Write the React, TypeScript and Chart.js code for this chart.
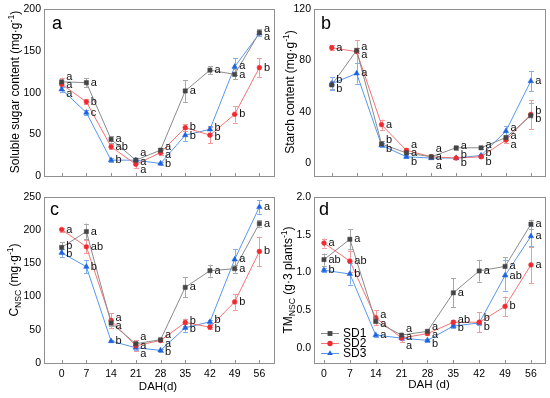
import React, { useEffect, useRef } from 'react';
import { Chart, registerables } from 'chart.js';
Chart.register(...registerables);

const FONT = '"Liberation Sans", Arial, sans-serif';

// ---------- shared ----------
const days = [0, 7, 14, 21, 28, 35, 42, 49, 56];
const seriesNames = ['SD1', 'SD2', 'SD3'];

// ---------- panel a : soluble sugar ----------
const sugarSD1 = [113, 112, 44, 19, 31, 102, 127, 122, 172];
const sugarSD2 = [110, 89, 35, 14, 28, 58, 49, 74, 130];
const sugarSD3 = [104, 76, 19, 19, 15, 49, 56, 131, 171];
const sugarErrSD1 = [5, 5, 4, 2, 3, 13, 5, 6, 4];
const sugarErrSD2 = [7, 3, 3, 5, 3, 4, 10, 10, 11];
const sugarErrSD3 = [3, 3, 2, 2, 2, 7, 4, 10, 3];
const sugarSigSD1 = ['a', 'a', 'a', 'a', 'a', 'a', 'a', 'a', 'a'];
const sugarSigSD2 = ['a', 'b', 'ab', 'a', 'a', 'b', 'b', 'b', 'b'];
const sugarSigSD3 = ['a', 'c', 'b', 'a', 'b', 'b', 'b', 'a', 'a'];
const sugarTicks = [0, 50, 100, 150, 200];

// ---------- panel b : starch ----------
const starchSD1 = [61, 88, 15, 8, 5, 12, 12, 20, 37];
const starchSD2 = [90, 87, 30, 10, 5, 4, 5, 18, 38];
const starchSD3 = [62, 70, 14, 5, 4, 4, 6, 25, 64];
const starchErrSD1 = [3, 2, 2, 1, 1, 1.5, 1, 2, 10];
const starchErrSD2 = [2, 9, 4, 1.5, 1, 1, 1, 2, 11];
const starchErrSD3 = [5, 8, 1.5, 1, 1, 1, 1.5, 4, 8];
const starchSigSD1 = ['b', 'a', 'b', 'a', 'a', 'a', 'a', 'a', 'b'];
const starchSigSD2 = ['a', 'a', 'a', 'a', 'a', 'b', 'b', 'a', 'b'];
const starchSigSD3 = ['b', 'a', 'b', 'b', 'a', 'b', 'b', 'a', 'a'];
const starchTicks = [0, 40, 80, 120];

// ---------- panel c : C NSC ----------
const cnscSD1 = [174, 198, 60, 29, 35, 114, 139, 142, 210];
const cnscSD2 = [201, 175, 64, 26, 34, 61, 54, 92, 168];
const cnscSD3 = [166, 145, 33, 23, 19, 53, 62, 156, 235];
const cnscErrSD1 = [8, 12, 5, 3, 3, 15, 9, 6, 5];
const cnscErrSD2 = [3, 10, 11, 8, 3, 6, 3, 12, 22];
const cnscErrSD3 = [6, 10, 2, 3, 2, 6, 3, 15, 10];
const cnscSigSD1 = ['b', 'a', 'a', 'a', 'a', 'a', 'a', 'a', 'a'];
const cnscSigSD2 = ['a', 'ab', 'a', 'a', 'a', 'b', 'b', 'b', 'b'];
const cnscSigSD3 = ['b', 'b', 'b', 'a', 'b', 'b', 'b', 'a', 'a'];
const cnscTicks = [0, 50, 100, 150, 200, 250];

// ---------- panel d : TM NSC ----------
const tmSD1 = [1.17, 1.44, 0.35, 0.17, 0.22, 0.73, 1.02, 1.08, 1.64];
const tmSD2 = [1.39, 1.15, 0.4, 0.13, 0.19, 0.34, 0.34, 0.55, 1.1];
const tmSD3 = [1.03, 0.98, 0.17, 0.13, 0.1, 0.29, 0.33, 0.96, 1.48];
const tmErrSD1 = [0.08, 0.13, 0.05, 0.02, 0.02, 0.19, 0.14, 0.12, 0.06];
const tmErrSD2 = [0.06, 0.14, 0.1, 0.05, 0.02, 0.03, 0.13, 0.13, 0.24];
const tmErrSD3 = [0.03, 0.14, 0.02, 0.03, 0.02, 0.03, 0.03, 0.2, 0.13];
const tmSigSD1 = ['ab', 'a', 'a', 'a', 'a', 'a', 'a', 'a', 'a'];
const tmSigSD2 = ['a', 'ab', 'a', 'a', 'a', 'ab', 'b', 'b', 'a'];
const tmSigSD3 = ['b', 'b', 'a', 'a', 'b', 'b', 'b', 'ab', 'a'];
const tmTicks = [0, 0.5, 1.0, 1.5, 2.0];

// ---------- styles ----------
const lineColors = ['#8a8a8a', '#f37373', '#5597ec'];
const markColors = ['#454545', '#f02a30', '#1b63e2'];
const errColors = ['#a8a8a8', '#f59a9a', '#80b0f0'];
const markStyles = ['rect', 'circle', 'triangle'];
const markRadius = [3.0, 2.4, 3.2];

type Part = { t: string; k?: 'sub' | 'sup' };

interface PanelCfg {
  key: string;
  area: { l: number; t: number; r: number; b: number };
  xMin: number;
  xMax: number;
  yMin: number;
  yMax: number;
  yTicks: number[];
  decimals: number;
  series: number[][];
  errs: number[][];
  sigs: string[][];
  showX: boolean;
  letter: string;
  letterPos: [number, number];
  yTitle: Part[];
  yTitlePos: [number, number];
  xTitle?: string;
  xTitlePos?: [number, number];
  legend?: boolean;
}

const panels: PanelCfg[] = [
  {
    key: 'a',
    area: { l: 44, t: 8, r: 273.5, b: 176 },
    xMin: -5, xMax: 60, yMin: 0, yMax: 200, yTicks: sugarTicks, decimals: 0,
    series: [sugarSD1, sugarSD2, sugarSD3],
    errs: [sugarErrSD1, sugarErrSD2, sugarErrSD3],
    sigs: [sugarSigSD1, sugarSigSD2, sugarSigSD3],
    showX: false, letter: 'a', letterPos: [52, 29],
    yTitle: [{ t: 'Soluble sugar content (mg·g' }, { t: '-1', k: 'sup' }, { t: ')' }],
    yTitlePos: [15, 92],
  },
  {
    key: 'b',
    area: { l: 314, t: 8, r: 545, b: 176 },
    xMin: -5, xMax: 60, yMin: -10, yMax: 120, yTicks: starchTicks, decimals: 0,
    series: [starchSD1, starchSD2, starchSD3],
    errs: [starchErrSD1, starchErrSD2, starchErrSD3],
    sigs: [starchSigSD1, starchSigSD2, starchSigSD3],
    showX: false, letter: 'b', letterPos: [321, 29],
    yTitle: [{ t: 'Starch content (mg·g' }, { t: '-1', k: 'sup' }, { t: ')' }],
    yTitlePos: [290, 92],
  },
  {
    key: 'c',
    area: { l: 44, t: 197, r: 273.5, b: 363 },
    xMin: -5, xMax: 60, yMin: 0, yMax: 250, yTicks: cnscTicks, decimals: 0,
    series: [cnscSD1, cnscSD2, cnscSD3],
    errs: [cnscErrSD1, cnscErrSD2, cnscErrSD3],
    sigs: [cnscSigSD1, cnscSigSD2, cnscSigSD3],
    showX: true, letter: 'c', letterPos: [50, 215],
    yTitle: [{ t: 'C' }, { t: 'NSC', k: 'sub' }, { t: ' (mg·g' }, { t: '-1', k: 'sup' }, { t: ')' }],
    yTitlePos: [14, 280],
    xTitle: 'DAH(d)', xTitlePos: [158, 386],
  },
  {
    key: 'd',
    area: { l: 314, t: 197, r: 545, b: 363 },
    xMin: -2.7, xMax: 59.8, yMin: -0.2, yMax: 2.0, yTicks: tmTicks, decimals: 1,
    series: [tmSD1, tmSD2, tmSD3],
    errs: [tmErrSD1, tmErrSD2, tmErrSD3],
    sigs: [tmSigSD1, tmSigSD2, tmSigSD3],
    showX: true, letter: 'd', letterPos: [319, 215],
    yTitle: [{ t: 'TM' }, { t: 'NSC', k: 'sub' }, { t: ' (g·3 plants' }, { t: '-1', k: 'sup' }, { t: ')' }],
    yTitlePos: [288, 280],
    xTitle: 'DAH (d)', xTitlePos: [429, 384],
    legend: true,
  },
];

const W = 550;
const H = 398;
const YW = 30;
const XH = 20;

function drawRich(ctx: CanvasRenderingContext2D, parts: Part[], x: number, y: number, fs: number, rotate: boolean) {
  const small = fs * 0.72;
  const fontOf = (p: Part) => `${p.k ? small : fs}px ${FONT}`;
  let total = 0;
  for (const p of parts) {
    ctx.font = fontOf(p);
    total += ctx.measureText(p.t).width;
  }
  ctx.save();
  ctx.translate(x, y);
  if (rotate) ctx.rotate(-Math.PI / 2);
  ctx.fillStyle = '#000';
  ctx.textBaseline = 'alphabetic';
  ctx.textAlign = 'left';
  let cx = -total / 2;
  const base = fs * 0.36;
  for (const p of parts) {
    ctx.font = fontOf(p);
    const dy = p.k === 'sub' ? fs * 0.25 : p.k === 'sup' ? -fs * 0.42 : 0;
    ctx.fillText(p.t, cx, base + dy);
    cx += ctx.measureText(p.t).width;
  }
  ctx.restore();
}

function drawMarker(ctx: CanvasRenderingContext2D, i: number, x: number, y: number) {
  const r = markRadius[i];
  ctx.save();
  ctx.fillStyle = markColors[i];
  ctx.beginPath();
  if (markStyles[i] === 'rect') {
    const s = r * Math.SQRT1_2 + 0.3;
    ctx.rect(x - s, y - s, 2 * s, 2 * s);
  } else if (markStyles[i] === 'circle') {
    ctx.arc(x, y, r + 0.3, 0, Math.PI * 2);
  } else {
    ctx.moveTo(x, y - r);
    ctx.lineTo(x + r * 0.866, y + r * 0.5);
    ctx.lineTo(x - r * 0.866, y + r * 0.5);
    ctx.closePath();
  }
  ctx.fill();
  ctx.restore();
}

function makePlugin(cfg: PanelCfg) {
  return {
    id: 'panel-' + cfg.key,
    beforeDatasetsDraw(chart: any) {
      const ctx: CanvasRenderingContext2D = chart.ctx;
      const xs = chart.scales.x;
      const ys = chart.scales.y;
      ctx.save();
      ctx.lineWidth = 1;
      cfg.errs.forEach((errArr, si) => {
        ctx.strokeStyle = errColors[si];
        errArr.forEach((e, i) => {
          const v = cfg.series[si][i];
          const px = Math.round(xs.getPixelForValue(days[i])) + 0.5;
          const y1 = ys.getPixelForValue(v + e);
          const y2 = ys.getPixelForValue(v - e);
          ctx.beginPath();
          ctx.moveTo(px, y1);
          ctx.lineTo(px, y2);
          ctx.moveTo(px - 2.5, Math.round(y1) + 0.5);
          ctx.lineTo(px + 2.5, Math.round(y1) + 0.5);
          ctx.moveTo(px - 2.5, Math.round(y2) + 0.5);
          ctx.lineTo(px + 2.5, Math.round(y2) + 0.5);
          ctx.stroke();
        });
      });
      ctx.restore();
    },
    afterDraw(chart: any) {
      const ctx: CanvasRenderingContext2D = chart.ctx;
      const a = chart.chartArea;
      const xs = chart.scales.x;
      const ys = chart.scales.y;
      ctx.save();
      // box
      ctx.strokeStyle = '#909090';
      ctx.lineWidth = 1;
      ctx.strokeRect(Math.round(a.left) + 0.5, Math.round(a.top) + 0.5, Math.round(a.right - a.left), Math.round(a.bottom - a.top));
      // inward x ticks
      ctx.beginPath();
      for (const t of xs.ticks) {
        const px = Math.round(xs.getPixelForValue(t.value)) + 0.5;
        ctx.moveTo(px, a.bottom);
        ctx.lineTo(px, a.bottom - 3);
      }
      ctx.stroke();
      // significance letters
      ctx.fillStyle = '#111';
      ctx.font = `11px ${FONT}`;
      ctx.textBaseline = 'middle';
      ctx.textAlign = 'left';
      days.forEach((d, i) => {
        const items = cfg.series.map((s, si) => ({ y: ys.getPixelForValue(s[i]), t: cfg.sigs[si][i] }));
        items.sort((p, q) => p.y - q.y);
        const gap = 8.5;
        for (let it = 0; it < 30; it++) {
          for (let k = 1; k < items.length; k++) {
            const diff = items[k].y - items[k - 1].y;
            if (diff < gap) {
              const m = (gap - diff) / 2;
              items[k].y += m;
              items[k - 1].y -= m;
            }
          }
        }
        const px = xs.getPixelForValue(d) + 4.5;
        items.forEach((p) => ctx.fillText(p.t, px, p.y));
      });
      // panel letter
      ctx.font = `18px ${FONT}`;
      ctx.textBaseline = 'alphabetic';
      ctx.fillStyle = '#000';
      ctx.fillText(cfg.letter, cfg.letterPos[0], cfg.letterPos[1]);
      // axis titles
      drawRich(ctx, cfg.yTitle, cfg.yTitlePos[0], cfg.yTitlePos[1], 12, true);
      if (cfg.xTitle && cfg.xTitlePos) {
        drawRich(ctx, [{ t: cfg.xTitle }], cfg.xTitlePos[0], cfg.xTitlePos[1], 11.5, false);
      }
      // legend
      if (cfg.legend) {
        seriesNames.forEach((n, i) => {
          const y = 333.5 + i * 10;
          ctx.strokeStyle = lineColors[i];
          ctx.lineWidth = 1;
          ctx.beginPath();
          ctx.moveTo(321, y);
          ctx.lineTo(339, y);
          ctx.stroke();
          drawMarker(ctx, i, 330, y);
          ctx.fillStyle = '#000';
          ctx.font = `12px ${FONT}`;
          ctx.textBaseline = 'middle';
          ctx.textAlign = 'left';
          ctx.fillText(n, 343, y);
        });
      }
      ctx.restore();
    },
  };
}

function buildChart(canvas: HTMLCanvasElement, cfg: PanelCfg) {
  const { l, t, r, b } = cfg.area;
  return new Chart(canvas, {
    type: 'line',
    data: {
      datasets: cfg.series.map((s, si) => ({
        label: seriesNames[si],
        data: days.map((d, i) => ({ x: d, y: s[i] })),
        borderColor: lineColors[si],
        backgroundColor: markColors[si],
        pointBackgroundColor: markColors[si],
        pointBorderColor: markColors[si],
        pointBorderWidth: 0.5,
        pointStyle: markStyles[si] as any,
        pointRadius: markRadius[si],
        borderWidth: 1,
        tension: 0,
        fill: false,
      })),
    },
    options: {
      responsive: false,
      animation: false,
      events: [],
      layout: { padding: { left: l - YW, top: t, right: W - r, bottom: H - b - XH } },
      plugins: { legend: { display: false }, tooltip: { enabled: false } },
      scales: {
        x: {
          type: 'linear',
          min: cfg.xMin,
          max: cfg.xMax,
          grid: { display: false, drawTicks: false },
          border: { display: false },
          ticks: {
            display: cfg.showX,
            padding: 5,
            color: '#000',
            font: { size: 10.5, family: FONT },
            autoSkip: false,
            maxRotation: 0,
          },
          afterBuildTicks: (s: any) => {
            s.ticks = days.map((v) => ({ value: v }));
          },
          afterFit: (s: any) => {
            s.height = XH;
          },
        },
        y: {
          type: 'linear',
          min: cfg.yMin,
          max: cfg.yMax,
          grid: { display: false, drawTicks: false },
          border: { display: false },
          ticks: {
            padding: 3,
            color: '#000',
            font: { size: 10.5, family: FONT },
            callback: (v: any) => Number(v).toFixed(cfg.decimals),
          },
          afterBuildTicks: (s: any) => {
            s.ticks = cfg.yTicks.map((v) => ({ value: v }));
          },
          afterFit: (s: any) => {
            s.width = YW;
          },
        },
      },
    },
    plugins: [makePlugin(cfg)],
  } as any);
}

export default function App() {
  const refs = useRef<(HTMLCanvasElement | null)[]>([]);
  useEffect(() => {
    document.body.style.margin = '0';
    const charts = panels.map((p, i) => buildChart(refs.current[i] as HTMLCanvasElement, p));
    return () => charts.forEach((c) => c.destroy());
  }, []);
  return (
    <div style={{ position: 'relative', width: W, height: H, background: '#fff' }}>
      {panels.map((p, i) => (
        <canvas
          key={p.key}
          ref={(el) => {
            refs.current[i] = el;
          }}
          width={W}
          height={H}
          style={{ position: 'absolute', left: 0, top: 0, width: W, height: H }}
        />
      ))}
    </div>
  );
}
